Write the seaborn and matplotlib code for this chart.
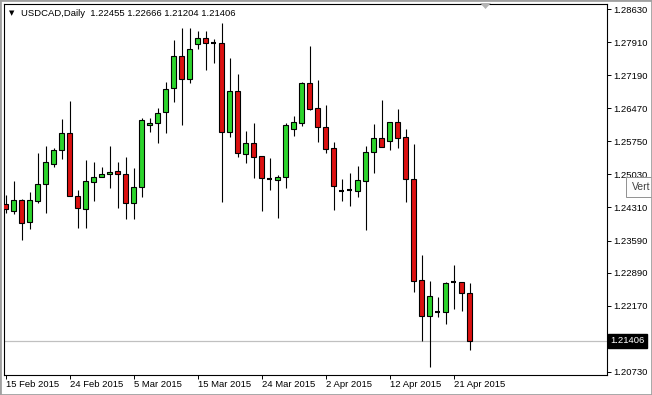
import matplotlib
matplotlib.use('Agg')
import matplotlib.pyplot as plt
from matplotlib.patches import Rectangle, Polygon
import numpy as np
import pandas as pd
import seaborn as sns

# daily bars (broker has Sunday candles)
DATES = pd.bdate_range('2015-02-15', '2015-04-23', freq='C', weekmask='Sun Mon Tue Wed Thu Fri')

OPEN = [1.24379, 1.24239, 1.24473, 1.24000, 1.24457, 1.24815, 1.25251, 1.25563, 1.25927, 1.24560,
        1.24270, 1.24872, 1.24981, 1.25033, 1.25098, 1.25033, 1.24401, 1.24750, 1.26101, 1.26145,
        1.26385, 1.26908, 1.27612, 1.27104, 1.27867, 1.27998, 1.27889, 1.27889, 1.25962, 1.26849,
        1.25469, 1.25709, 1.25432, 1.24931, 1.24915, 1.24968, 1.26014, 1.26158, 1.27030, 1.26472,
        1.26058, 1.25600, 1.24675, 1.24684, 1.24675, 1.24893, 1.25513, 1.25818, 1.25752, 1.26167,
        1.25840, 1.24931, 1.22729, 1.21950, 1.22038, 1.22025, 1.22679, 1.22692, 1.22455]
HIGH = [1.24582, 1.24887, 1.24488, 1.24641, 1.25491, 1.25650, 1.25600, 1.26232, 1.26631, 1.24691,
        1.25345, 1.25308, 1.25186, 1.25650, 1.25308, 1.25404, 1.25164, 1.26254, 1.26254, 1.26472,
        1.27045, 1.27961, 1.28216, 1.28216, 1.28163, 1.28163, 1.27976, 1.28325, 1.27562, 1.27213,
        1.25977, 1.26145, 1.25432, 1.25382, 1.25018, 1.26145, 1.26304, 1.27052, 1.27830, 1.27089,
        1.26544, 1.25744, 1.24931, 1.25055, 1.25214, 1.25650, 1.26130, 1.26653, 1.26167, 1.26450,
        1.26014, 1.25694, 1.23274, 1.22707, 1.22352, 1.22692, 1.23056, 1.22692, 1.22666]
LOW = [1.24189, 1.24168, 1.23601, 1.23840, 1.24414, 1.24196, 1.25186, 1.25360, 1.24560, 1.23869,
       1.23856, 1.24457, 1.24981, 1.24741, 1.24305, 1.24052, 1.24052, 1.24532, 1.25949, 1.25709,
       1.25940, 1.26616, 1.26108, 1.27030, 1.27758, 1.27307, 1.27466, 1.24436, 1.25853, 1.25417,
       1.25286, 1.24946, 1.24239, 1.24691, 1.24074, 1.24728, 1.25868, 1.26092, 1.26435, 1.25744,
       1.25504, 1.24255, 1.24457, 1.24348, 1.24532, 1.23819, 1.25068, 1.25635, 1.25563, 1.25600,
       1.24436, 1.22474, 1.21399, 1.20839, 1.21916, 1.21769, 1.22096, 1.22059, 1.21204]
CLOSE = [1.24270, 1.24473, 1.23978, 1.24473, 1.24822, 1.25295, 1.25563, 1.25940, 1.24560, 1.24292,
         1.24887, 1.24968, 1.25033, 1.25090, 1.25033, 1.24401, 1.24750, 1.26217, 1.26151, 1.26363,
         1.26886, 1.27612, 1.27104, 1.27758, 1.27998, 1.27889, 1.27889, 1.25962, 1.26849, 1.25491,
         1.25709, 1.25417, 1.24946, 1.24931, 1.24968, 1.26108, 1.26167, 1.27030, 1.26456, 1.26071,
         1.25578, 1.24784, 1.24675, 1.24684, 1.24909, 1.25513, 1.25818, 1.25635, 1.26167, 1.25831,
         1.24924, 1.22713, 1.21950, 1.22380, 1.22038, 1.22670, 1.22679, 1.22439, 1.21406]

PRICE_TICKS = [1.28630, 1.27910, 1.27190, 1.26470, 1.25750, 1.25030, 1.24310,
               1.23590, 1.22890, 1.22170, 1.20730]
LAST_PRICE = 1.21406
TITLE = 'USDCAD,Daily  1.22455 1.22666 1.21204 1.21406'

UP = '#2cd42c'
DOWN = '#dc1010'
W, H = 652, 395

df = pd.DataFrame(dict(date=DATES, open=OPEN, high=HIGH, low=LOW, close=CLOSE))
df['x'] = np.arange(len(df))
df['body_lo'] = df[['open', 'close']].min(axis=1)
df['body_hi'] = df[['open', 'close']].max(axis=1)

sns.set_theme(style='white')
plt.rcParams['font.family'] = ['Liberation Sans', 'DejaVu Sans']

fig = plt.figure(figsize=(W / 100, H / 100), dpi=100)
fig.patch.set_facecolor('white')
ax = fig.add_axes([4 / W, (H - 375) / H, 603 / W, 371 / H])
ax.set_facecolor('white')

# bid line
ax.axhline(LAST_PRICE, color='#c0c0c0', lw=0.9, zorder=1)

# wicks
ax.vlines(df['x'], df['low'], df['high'], color='black', lw=0.8, zorder=2)

# bodies
doji = df['open'] == df['close']
up = (df['close'] > df['open'])
down = (df['close'] < df['open'])
for mask, col in [(up, UP), (down, DOWN)]:
    sub = df[mask]
    ax.bar(sub['x'], sub['body_hi'] - sub['body_lo'], bottom=sub['body_lo'], width=0.52,
           color=col, edgecolor='black', linewidth=0.8, zorder=3)
sub = df[doji]
ax.hlines(sub['open'], sub['x'] - 0.3, sub['x'] + 0.3, color='black', lw=1.5, zorder=3)

ax.set_xlim((4 - 5.5) / 8, (607 - 5.5) / 8)
ax.set_ylim(1.20658, 1.28746)

for s in ax.spines.values():
    s.set_color('black')
    s.set_linewidth(0.8)

ax.yaxis.tick_right()
ax.set_yticks(PRICE_TICKS)
ax.set_yticklabels([f'{v:.5f}' for v in PRICE_TICKS])
ax.tick_params(axis='y', direction='out', length=3, width=0.7, pad=1.5,
               labelsize=6.8, colors='black', right=True, left=False)

xt = df['x'][::8]
ax.set_xticks(xt)
ax.set_xticklabels([f'{d.day} {d:%b %Y}' for d in df['date'][::8]], ha='left')
ax.tick_params(axis='x', direction='out', length=3, width=0.7, pad=0.5,
               labelsize=6.8, colors='black', bottom=True)
ax.set_xlabel('')
ax.set_ylabel('')
ax.grid(False)

# last price box
ax.text(1.006, LAST_PRICE, '1.21406', transform=ax.get_yaxis_transform(), ha='left', va='center',
        fontsize=6.8, color='white', clip_on=False,
        bbox=dict(boxstyle='square,pad=0.25', facecolor='black', edgecolor='black'))

# header
fig.text(9 / W, 1 - 13 / H, '\u25bc', fontsize=5, va='center', ha='left', color='black',
         family=['DejaVu Sans'])
fig.text(21 / W, 1 - 13 / H, TITLE, fontsize=6.8, va='center', ha='left', color='black')

# chart shift marker
fig.patches.append(Polygon([(480 / W, 1 - 3 / H), (491 / W, 1 - 3 / H), (485.5 / W, 1 - 9 / H)],
                           closed=True, transform=fig.transFigure, facecolor='#b4b4b4',
                           edgecolor='none', zorder=5))

# tooltip fragment (runs off the right edge)
fig.patches.append(Rectangle((626 / W, 1 - 197 / H), 30 / W, 20 / H, transform=fig.transFigure,
                             facecolor='#fdfdfd', edgecolor='#909090', lw=0.7, zorder=4))
fig.text(632 / W, 1 - 187 / H, 'Vert', fontsize=7.5, va='center', ha='left', color='#404040',
         zorder=5)

# window frame
fig.patches.append(Rectangle((0, 0), 1, 1, transform=fig.transFigure, fill=False,
                             edgecolor='#a0a0a0', lw=2, zorder=6))

fig.savefig('out.png', dpi=100, facecolor='white')
